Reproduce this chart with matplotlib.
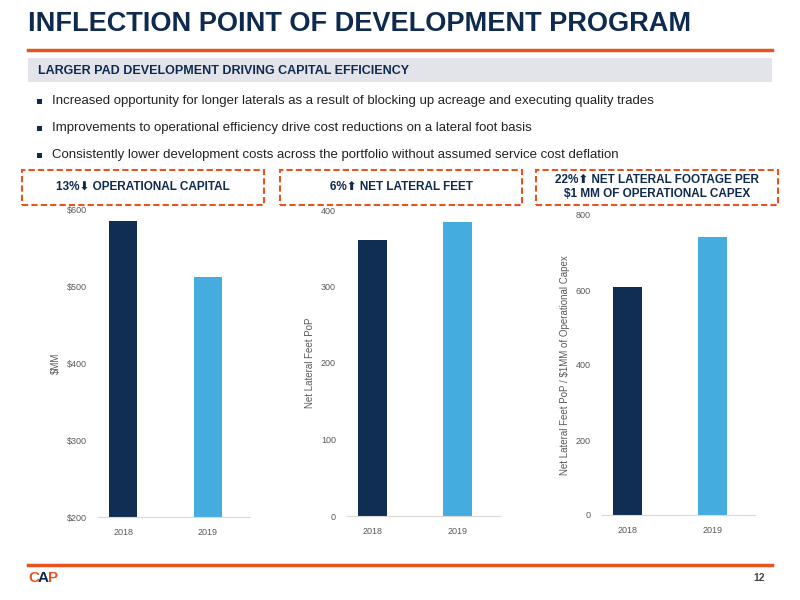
import matplotlib
matplotlib.use("Agg")
import matplotlib.pyplot as plt
from matplotlib.patches import Rectangle

years = ["2018", "2019"]
capital = [586, 513]
lateral_feet = [361, 384]
footage_per_mm = [608, 741]

dark = "#102D53"
light = "#45ACE0"
orange = "#E8541E"
navy = "#0F2A4F"

plt.rcParams['font.family'] = ['Liberation Sans', 'DejaVu Sans']
fig = plt.figure(figsize=(8, 6), dpi=100)
W, H = 800, 600
def fx(x): return x / W
def fy(y): return 1 - y / H

fig.text(fx(28), fy(24), "INFLECTION POINT OF DEVELOPMENT PROGRAM", fontsize=19.5,
         fontweight="bold", color=navy, va="center")
fig.add_artist(plt.Line2D([fx(28), fx(772)], [fy(50), fy(50)], color=orange, lw=2.5))
fig.add_artist(Rectangle((fx(28), fy(82)), fx(744), 24 / H, color="#E2E4EA", lw=0))
fig.text(fx(38), fy(71), "LARGER PAD DEVELOPMENT DRIVING CAPITAL EFFICIENCY", fontsize=9,
         fontweight="bold", color=navy, va="center")
bullets = ["Increased opportunity for longer laterals as a result of blocking up acreage and executing quality trades",
           "Improvements to operational efficiency drive cost reductions on a lateral foot basis",
           "Consistently lower development costs across the portfolio without assumed service cost deflation"]
for i, b in enumerate(bullets):
    y = 101 + i * 27
    fig.add_artist(Rectangle((fx(37), fy(y + 3)), 5 / W, 5 / H, color=navy, lw=0))
    fig.text(fx(52), fy(y), b, fontsize=9.5, color="#222222", va="center")

boxes = [(22, "13%\u2B07 OPERATIONAL CAPITAL"), (280, "6%\u2B06 NET LATERAL FEET"),
         (536, "22%\u2B06 NET LATERAL FOOTAGE PER\n$1 MM OF OPERATIONAL CAPEX")]
for x0, t in boxes:
    fig.add_artist(Rectangle((fx(x0), fy(205)), 242 / W, 35 / H, fill=False, ec=orange,
                             lw=1.5, ls=(0, (3, 1.5))))
    fig.text(fx(x0 + 121), fy(187), t, fontsize=8.5, fontweight="bold", color=navy,
             ha="center", va="center", linespacing=1.3)

def panel(rect, vals, ylim, ticks, ticklabels, ylabel):
    x0, y0, x1, y1 = rect
    ax = fig.add_axes([fx(x0), fy(y1), fx(x1 - x0), (y1 - y0) / H])
    ax.bar(years, vals, color=[dark, light], width=0.33)
    ax.set_ylim(*ylim)
    ax.set_yticks(ticks)
    ax.set_yticklabels(ticklabels)
    ax.set_xlim(-0.3, 1.5)
    for s in ["top", "right", "left"]:
        ax.spines[s].set_visible(False)
    ax.spines["bottom"].set_color("#D9D9D9")
    ax.tick_params(length=0, labelsize=6.5, labelcolor="#595959", pad=8)
    ax.set_ylabel(ylabel, fontsize=7, color="#595959")
    return ax

panel((98, 210, 250, 517), capital, (200, 600), [200, 300, 400, 500, 600],
      ["$200", "$300", "$400", "$500", "$600"], "$MM")
panel((347, 210, 500, 516), lateral_feet, (0, 400), [0, 100, 200, 300, 400],
      ["0", "100", "200", "300", "400"], "Net Lateral Feet PoP")
panel((602, 215, 755, 515), footage_per_mm, (0, 800), [0, 200, 400, 600, 800],
      ["0", "200", "400", "600", "800"], "Net Lateral Feet PoP / $1MM of Operational Capex")

fig.add_artist(plt.Line2D([fx(28), fx(772)], [fy(565), fy(565)], color=orange, lw=2.5))
fig.text(fx(28), fy(578), "C", fontsize=11, color=orange, fontweight="bold", va="center")
fig.text(fx(38), fy(578), "A", fontsize=11, color=navy, fontweight="bold", va="center")
fig.text(fx(48), fy(578), "P", fontsize=11, color=orange, fontweight="bold", va="center")
fig.text(fx(765), fy(578), "12", fontsize=7.5, color="#444444", ha="right", va="center", fontweight="bold")

fig.savefig("out.png", dpi=100)
